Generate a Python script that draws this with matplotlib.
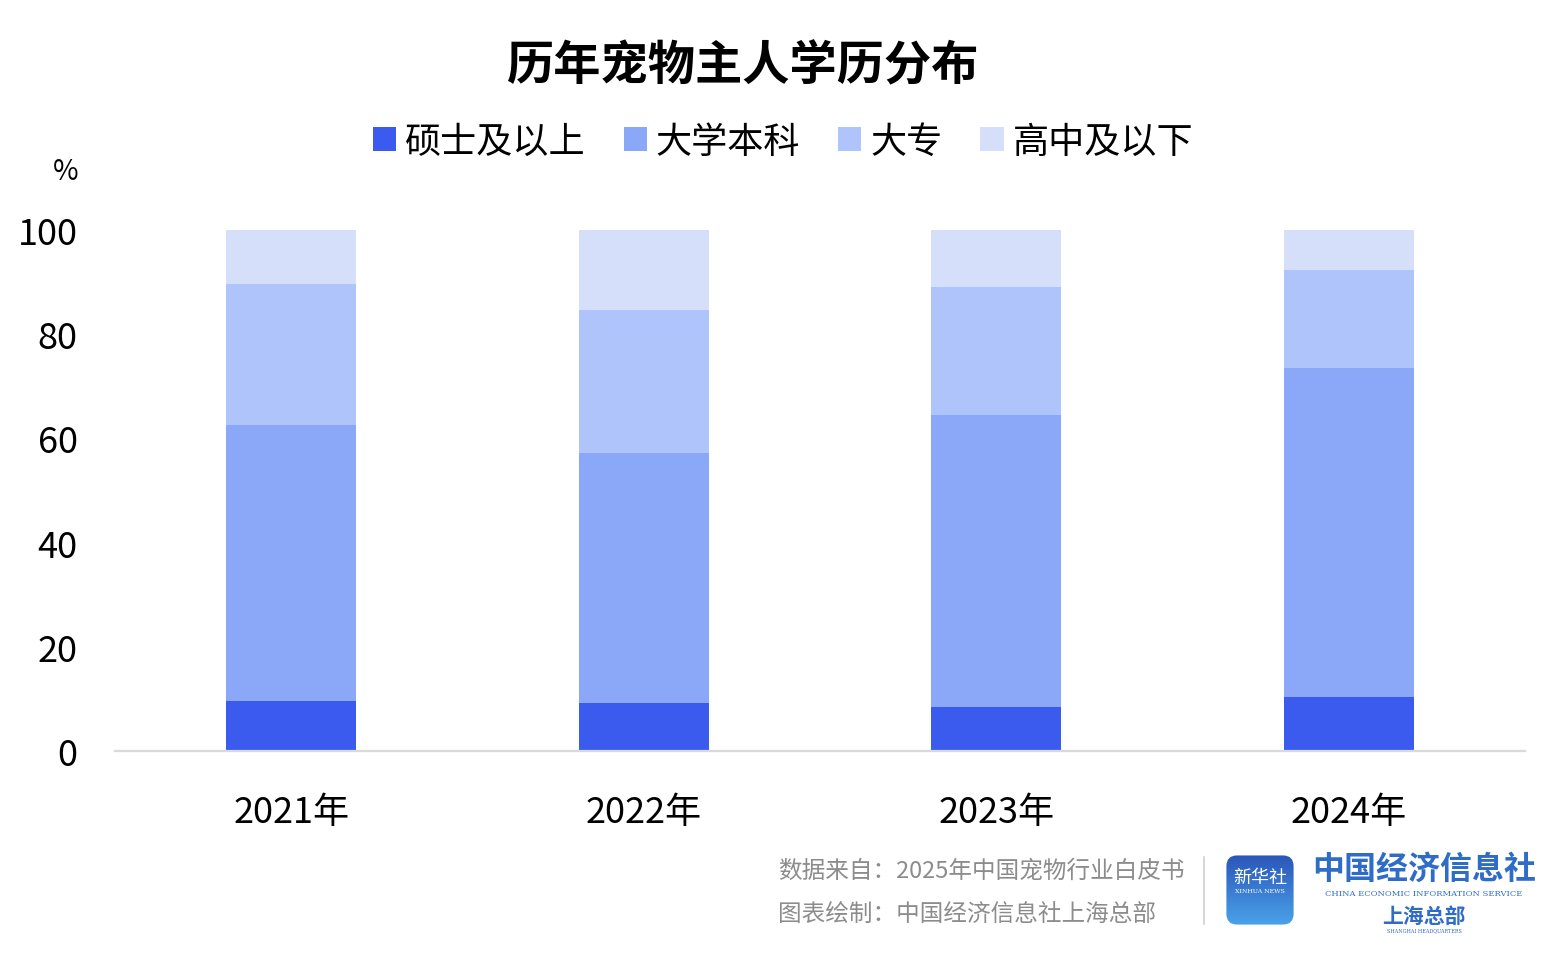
import numpy as np
import matplotlib
matplotlib.use('Agg')
import matplotlib.pyplot as plt
import matplotlib.patches as patches

plt.rcParams['font.family'] = ['Noto Sans CJK SC', 'DejaVu Sans']

# 数据（读图估计，单位 %）
years = ['2021年', '2022年', '2023年', '2024年']
labels = ['硕士及以上', '大学本科', '大专', '高中及以下']
master = [9.6, 9.2, 8.4, 10.3]
bachelor = [52.9, 48.0, 56.1, 63.3]
college = [27.2, 27.5, 24.6, 18.8]
highschool = [10.3, 15.3, 10.9, 7.6]
colors = ['#3A5BEE', '#8AA7F8', '#AFC4FB', '#D6DFFA']

W, H = 1552, 954


def fx(px):
    return px / W


def fy(py):
    return 1 - py / H


fig = plt.figure(figsize=(W / 100, H / 100), dpi=100)
ax = fig.add_axes([fx(115), fy(752), fx(1525) - fx(115), fy(231) - fy(752)])

x = np.arange(len(years))
bottom = np.zeros(len(years))
for vals, color, lab in zip([master, bachelor, college, highschool], colors, labels):
    ax.bar(x, vals, width=0.368, bottom=bottom, color=color, label=lab,
           edgecolor='none', zorder=2)
    bottom += np.array(vals)

ax.set_xlim(-0.5, 3.5)
ax.set_ylim(0, 100)
ax.set_yticks([0, 20, 40, 60, 80, 100])
ax.set_xticks(x)
ax.set_xticklabels(years)
ax.tick_params(axis='y', length=0, pad=27, labelsize=26)
ax.tick_params(axis='x', length=0, pad=31, labelsize=26)
for s in ['top', 'right', 'left']:
    ax.spines[s].set_visible(False)
ax.spines['bottom'].set_color('#DADADA')
ax.spines['bottom'].set_linewidth(1.6)
for lbl in ax.get_yticklabels():
    lbl.set_clip_on(False)

# 标题、单位
fig.text(fx(742), fy(66), '历年宠物主人学历分布', ha='center', va='center',
         fontsize=34, fontweight='bold')
fig.text(fx(66), fy(172), '%', ha='center', va='center', fontsize=20)

# 图例
handles = [patches.Patch(facecolor=c, edgecolor='none', label=l)
           for c, l in zip(colors, labels)]
fig.legend(handles=handles, loc='center', bbox_to_anchor=(fx(783), fy(143)),
           ncol=4, frameon=False, fontsize=26, handlelength=0.64,
           handleheight=0.64, handletextpad=0.25, columnspacing=1.05,
           borderaxespad=0)

# 页脚
gray = '#8C8C8C'
fig.text(fx(778), fy(871), '数据来自：2025年中国宠物行业白皮书', ha='left',
         va='center', fontsize=17, color=gray)
fig.text(fx(778), fy(915), '图表绘制：中国经济信息社上海总部', ha='left',
         va='center', fontsize=17, color=gray)
fig.add_artist(plt.Line2D([fx(1204), fx(1204)], [fy(858), fy(925)],
                          color='#D0D0D0', linewidth=1.2))

# 新华社 logo
lax = fig.add_axes([fx(1225), fy(927), fx(1295) - fx(1225), fy(855) - fy(927)])
lax.set_xlim(0, 1)
lax.set_ylim(0, 1)
lax.axis('off')
grad = np.linspace(0, 1, 100).reshape(-1, 1)
img = lax.imshow(grad, extent=[0, 1, 0, 1], aspect='auto', origin='lower',
                 cmap=matplotlib.colors.LinearSegmentedColormap.from_list(
                     'lg', ['#4AA3EA', '#2A55B8']))
clip = patches.FancyBboxPatch((0.02, 0.02), 0.96, 0.96,
                              boxstyle='round,pad=0,rounding_size=0.15',
                              transform=lax.transAxes, facecolor='none',
                              edgecolor='none')
lax.add_patch(clip)
img.set_clip_path(clip)
lax.text(0.5, 0.68, '新华社', ha='center', va='center', color='white',
         fontsize=13)
lax.text(0.5, 0.49, 'XINHUA NEWS', ha='center', va='center', color='white',
         fontsize=4.5, family='DejaVu Serif')
blue = '#2E6CC7'
fig.text(fx(1424), fy(870), '中国经济信息社', ha='center', va='center',
         fontsize=23, color=blue, fontweight='bold')
fig.text(fx(1424), fy(894), 'CHINA ECONOMIC INFORMATION SERVICE', ha='center',
         va='center', fontsize=6, color=blue, family='DejaVu Serif')
fig.text(fx(1424), fy(916), '上海总部', ha='center', va='center',
         fontsize=15, color=blue, fontweight='bold')
fig.text(fx(1424), fy(931), 'SHANGHAI HEADQUARTERS', ha='center',
         va='center', fontsize=3.5, color=blue, family='DejaVu Serif')

fig.savefig('out.png', dpi=100)
